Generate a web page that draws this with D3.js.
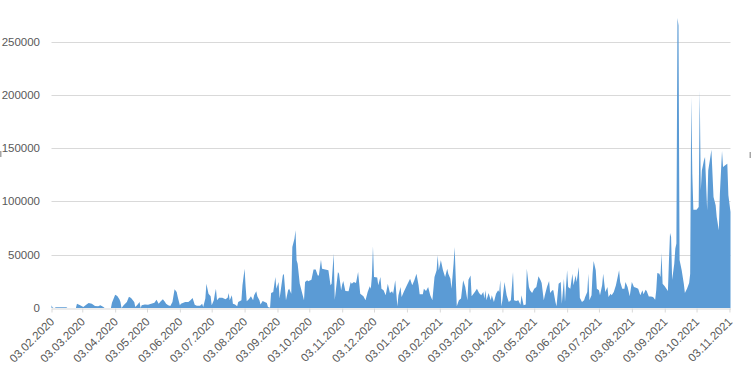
<!DOCTYPE html>
<html>
<head>
<meta charset="utf-8">
<script src="https://cdn.jsdelivr.net/npm/d3@7"></script>
<style>
  body { margin: 0; background: #fff; }
  svg { display: block; font-family: "Liberation Sans", Arial, sans-serif; }
</style>
</head>
<body>
<svg id="chart" width="751" height="367"></svg>
<script>
// daily counts, day offset from the first date
var startDate = "03.02.2020";
var lastDay = 640;

var days = [
  0, 1, 2, 3, 4, 9, 14, 15, 23, 24, 27, 30, 33, 35, 38, 41, 44, 46, 49, 50,
  56, 57, 60, 62, 64, 65, 66, 68, 71, 73, 75, 78, 79, 81, 83, 84, 85, 88, 91, 94,
  97, 99, 101, 103, 105, 107, 108, 110, 112, 114, 116, 118, 119, 121, 122, 126, 129, 131, 133, 135,
  137, 140, 142, 143, 145, 146, 148, 150, 151, 153, 154, 155, 156, 158, 161, 164, 166, 167, 168, 170,
  171, 173, 175, 176, 179, 180, 182, 183, 184, 186, 188, 190, 191, 193, 194, 196, 197, 199, 201, 203,
  204, 206, 207, 209, 211, 212, 214, 215, 218, 219, 221, 223, 224, 226, 227, 229, 230, 231, 232, 234,
  236, 238, 239, 241, 242, 245, 247, 249, 251, 252, 254, 255, 258, 261, 263, 264, 266, 267, 270, 271,
  273, 274, 275, 277, 280, 282, 283, 285, 287, 289, 291, 294, 296, 298, 300, 301, 302, 303, 304, 307,
  308, 310, 311, 313, 315, 317, 319, 321, 322, 324, 326, 327, 329, 330, 332, 335, 338, 340, 342, 344,
  346, 347, 350, 351, 353, 355, 357, 359, 361, 363, 364, 365, 367, 369, 371, 373, 374, 376, 377, 379,
  380, 381, 382, 384, 386, 388, 390, 392, 393, 395, 396, 399, 401, 403, 405, 407, 408, 409, 410, 412,
  414, 415, 417, 419, 421, 422, 423, 424, 425, 427, 428, 429, 431, 433, 435, 436, 438, 440, 442, 443,
  445, 447, 448, 450, 451, 453, 455, 457, 459, 461, 462, 464, 465, 467, 469, 470, 472, 473, 475, 476,
  478, 480, 481, 483, 484, 486, 487, 489, 491, 492, 494, 495, 497, 498, 500, 502, 503, 505, 506, 507,
  509, 510, 511, 513, 514, 516, 517, 519, 520, 522, 524, 525, 527, 528, 530, 532, 535, 536, 538, 540,
  541, 543, 545, 547, 549, 551, 553, 555, 557, 558, 560, 561, 563, 565, 567, 569, 570, 571, 573, 574,
  575, 576, 578, 581, 582, 583, 584, 585, 587, 588, 589, 590, 591, 592, 594, 596, 597, 599, 601, 602,
  603, 604, 605, 608, 610, 611, 612, 613, 615, 616, 618, 619, 621, 622, 624, 626, 627, 629, 630, 632,
  633, 635, 637, 638, 640
];

var counts = [
  2500, 400, 0, 0, 600, 700, 600, 0, 0, 4000, 2500, 1000, 3400, 4700, 4000, 1900, 1600, 2500, 1000, 0,
  0, 5000, 12500, 11300, 8100, 5600, 0, 2500, 5600, 10600, 9400, 5600, 900, 3100, 5600, 0, 2500, 3400, 3100, 4100,
  5000, 7800, 4100, 6300, 8100, 5600, 4100, 2500, 1900, 5600, 17500, 15000, 10300, 2500, 4100, 5600, 5600, 7200, 9400, 3100,
  2200, 2200, 4000, 900, 8800, 22800, 13400, 11000, 2500, 7200, 13400, 18100, 7200, 9700, 9700, 8100, 9700, 14100, 7200, 11900,
  4100, 3400, 1600, 5600, 7200, 21300, 36900, 19700, 6300, 8100, 11000, 7200, 11900, 15600, 11000, 7200, 3400, 6600, 5600, 4700,
  900, 300, 14100, 15000, 29100, 18100, 24400, 8800, 30600, 32200, 7200, 16600, 18100, 13400, 57200, 65000, 72900, 44700, 41600, 22800,
  15000, 7200, 24400, 26000, 25000, 26600, 36000, 36000, 30600, 30600, 45300, 36900, 36000, 35300, 21300, 22800, 51000, 7800, 33800, 32200,
  16600, 22000, 25300, 15900, 15600, 24400, 22800, 24400, 23500, 33800, 13400, 11000, 7200, 15000, 20300, 18100, 30000, 57900, 29100, 28500,
  21300, 29100, 18100, 16600, 11900, 22800, 14100, 15600, 13400, 26000, 1600, 11900, 19700, 10300, 15000, 21300, 27500, 21300, 26000, 32200,
  21300, 12800, 12800, 18100, 15900, 19700, 11900, 7200, 29100, 35300, 49400, 35300, 44700, 35300, 29100, 36900, 32200, 27500, 18100, 41600,
  57200, 29100, 1600, 7200, 8800, 26000, 19700, 7200, 26600, 30600, 11000, 15000, 18100, 14100, 11900, 15000, 8800, 16600, 7200, 14100,
  7200, 11900, 5600, 13400, 16600, 15000, 26000, 1600, 7200, 24400, 18100, 11900, 5600, 7200, 33800, 7200, 6600, 7200, 3100, 11900,
  2500, 3400, 36900, 19700, 16600, 14100, 18100, 19700, 29700, 26000, 23500, 7200, 11900, 19700, 25300, 14100, 16600, 16600, 5600, 1600,
  22800, 24400, 4100, 27500, 5600, 35300, 19700, 18100, 32200, 21300, 30600, 24400, 38500, 9700, 5600, 7200, 10300, 15000, 32200, 7200,
  11900, 32200, 44100, 35300, 18100, 16600, 11900, 21300, 32200, 15000, 19700, 10300, 13400, 11900, 15000, 21300, 35300, 24400, 18100, 18100,
  24400, 19700, 11000, 24400, 19700, 19100, 18100, 11900, 16600, 12800, 17200, 15900, 10900, 10900, 10300, 7800, 16600, 32800, 32200, 29100,
  51600, 22800, 20300, 15900, 44700, 70400, 66600, 26600, 41600, 55700, 60400, 272000, 265000, 45000, 35300, 22800, 14100, 18100, 23500, 32200,
  198000, 126000, 92200, 92200, 94700, 204000, 110400, 129100, 138500, 141700, 91600, 129100, 141700, 148500, 104100, 96300, 85400, 72900, 107300, 147300,
  132300, 133800, 135400, 105700, 90000
];

var tickLabels = [
  "03.02.2020", "03.03.2020", "03.04.2020", "03.05.2020", "03.06.2020", "03.07.2020",
  "03.08.2020", "03.09.2020", "03.10.2020", "03.11.2020", "03.12.2020", "03.01.2021",
  "03.02.2021", "03.03.2021", "03.04.2021", "03.05.2021", "03.06.2021", "03.07.2021",
  "03.08.2021", "03.09.2021", "03.10.2021", "03.11.2021"
];
var yTicks = [0, 50000, 100000, 150000, 200000, 250000];

var parse = d3.timeParse("%d.%m.%Y");
var start = parse(startDate);

var data = days.map(function (d, i) {
  return { date: d3.timeDay.offset(start, d), val: counts[i] };
});

var svg = d3.select("#chart");

var x = d3.scaleTime()
  .domain([start, d3.timeDay.offset(start, lastDay)])
  .range([51.5, 730.5]);

var y = d3.scaleLinear()
  .domain([0, 250000])
  .range([308, 41.5]);

var left = 51.5, right = 730.5;

// gridlines
svg.append("g")
  .selectAll("line")
  .data(yTicks.slice(1))
  .enter()
  .append("line")
  .attr("x1", left)
  .attr("x2", right)
  .attr("y1", function (d) { return Math.round(y(d)) + 0.5; })
  .attr("y2", function (d) { return Math.round(y(d)) + 0.5; })
  .attr("stroke", "#d9d9d9")
  .attr("stroke-width", 1);

// area
var area = d3.area()
  .x(function (d) { return x(d.date); })
  .y0(y(0))
  .y1(function (d) { return y(d.val); });

svg.append("path")
  .datum(data)
  .attr("d", area)
  .attr("fill", "#5b9bd5");

// x axis
var xAxis = d3.axisBottom(x)
  .tickValues(tickLabels.map(parse))
  .tickFormat(d3.timeFormat("%d.%m.%Y"))
  .tickSize(4)
  .tickSizeOuter(0);

var gx = svg.append("g")
  .attr("transform", "translate(0," + (Math.round(y(0)) + 0.5) + ")")
  .call(xAxis);

gx.select(".domain").attr("stroke", "#d9d9d9");
gx.selectAll(".tick line").attr("stroke", "#d9d9d9");
gx.selectAll(".tick text")
  .attr("fill", "#595959")
  .attr("font-size", "11.5px")
  .attr("text-anchor", "end")
  .attr("x", 3)
  .attr("y", 14)
  .attr("dy", null)
  .attr("transform", "rotate(-45 3 14)");

// y labels
svg.append("g")
  .selectAll("text")
  .data(yTicks)
  .enter()
  .append("text")
  .attr("x", 40)
  .attr("y", function (d) { return y(d); })
  .attr("dy", "0.35em")
  .attr("text-anchor", "end")
  .attr("fill", "#595959")
  .attr("font-size", "11.5px")
  .text(function (d) { return d; });

// small frame handles cut off at the edges
svg.append("rect").attr("x", 0).attr("y", 151).attr("width", 1.5).attr("height", 6).attr("fill", "#a6a6a6");
svg.append("rect").attr("x", 749.5).attr("y", 152).attr("width", 1.5).attr("height", 6).attr("fill", "#a6a6a6");
</script>
</body>
</html>
